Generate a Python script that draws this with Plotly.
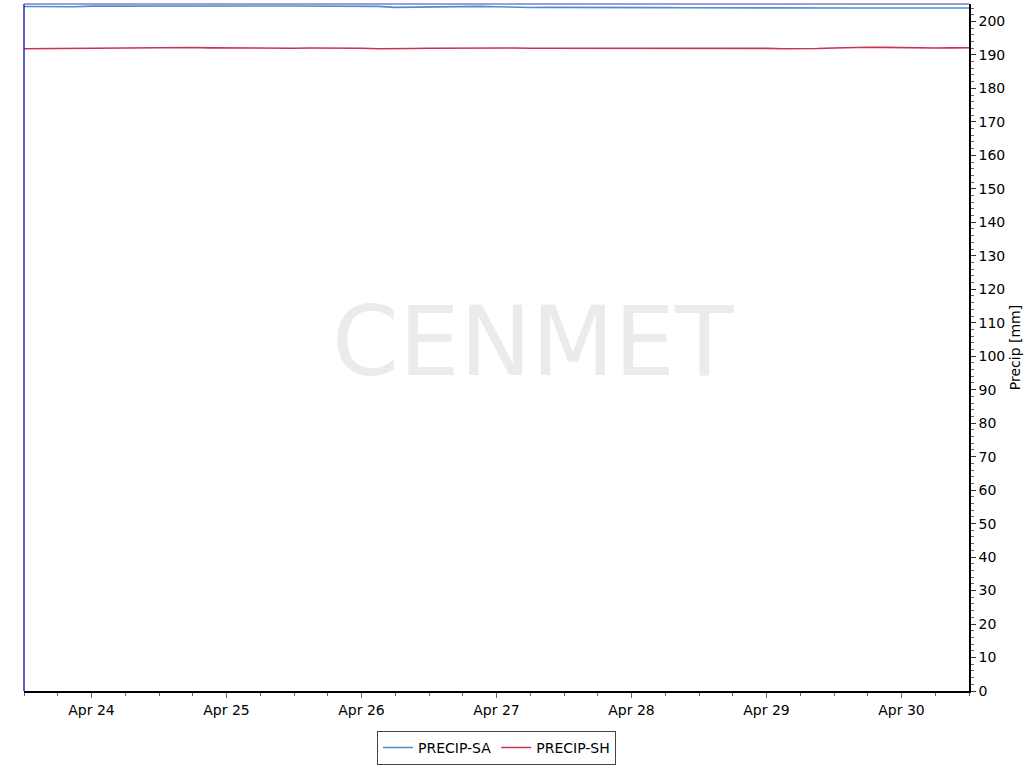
import pandas as pd
import plotly.graph_objects as go

# 3-hourly timestamps, Apr 23 12:00 .. Apr 30 12:00
times = pd.date_range("2024-04-23 12:00", "2024-04-30 12:00", freq="3h")

precip_sa = [204.45, 204.42, 204.40, 204.38,
             204.58, 204.60, 204.62, 204.60, 204.58, 204.60, 204.63, 204.62, 204.60,
             204.58, 204.60, 204.62, 204.60, 204.58, 204.56, 204.58, 204.55, 204.50,
             204.20, 204.25,
             204.45, 204.48, 204.50, 204.48, 204.40,
             204.20, 204.15, 204.18, 204.20, 204.15, 204.12, 204.15, 204.18, 204.15,
             204.12, 204.10, 204.08,
             204.05, 204.00, 204.02, 204.05, 204.00, 203.98, 203.85, 203.90, 204.00,
             204.02, 204.00, 203.98, 204.00, 204.02, 204.05, 204.00]

precip_sh = [191.85, 191.90, 191.95, 192.00, 192.05, 192.10, 192.15, 192.20, 192.25, 192.30,
             192.20, 192.10, 192.05, 192.00, 191.95, 191.95, 192.00, 192.05, 192.10, 192.05, 192.00,
             191.85, 191.80, 191.90,
             192.00, 192.05, 192.10, 192.15, 192.10, 192.05, 192.00, 192.00, 192.05, 192.10,
             192.05, 192.00, 192.00, 192.05, 192.10, 192.15, 192.10,
             192.05, 192.00, 191.95, 191.95, 191.85, 191.80, 191.90, 192.05, 192.20, 192.30,
             192.25, 192.15, 192.10, 192.05, 192.10, 192.15]

series_names = ["PRECIP-SA", "PRECIP-SH"]
series_colors = ["#4a8fcf", "#c8354e"]

x_range = ["2024-04-23 12:00", "2024-04-30 12:00"]
y_range = [0, 205.2]
watermark = "CENMET"
y_title = "Precip [mm]"

FONT = "DejaVu Sans"

fig = go.Figure()
for name, vals, col in zip(series_names, [precip_sa, precip_sh], series_colors):
    fig.add_trace(go.Scatter(x=times, y=vals, mode="lines", name=name,
                             line=dict(color=col, width=1.6)))

fig.update_layout(
    width=1024, height=768,
    margin=dict(l=24, r=55, t=4, b=77, autoexpand=False),
    paper_bgcolor="white", plot_bgcolor="white",
    font=dict(family=FONT, size=14, color="black"),
    showlegend=True,
    legend=dict(orientation="h", x=0.5, xanchor="center", y=-0.058, yanchor="top",
                bordercolor="#444444", borderwidth=1, font=dict(size=14),
                itemwidth=30, tracegroupgap=0),
    xaxis=dict(range=x_range, type="date", showgrid=False, zeroline=False, automargin=False,
               showline=True, linecolor="black", linewidth=1.5,
               tickformat="%b %d", dtick=86400000, tick0="2024-04-24",
               ticks="outside", ticklen=5, tickcolor="#666666",
               minor=dict(dtick=21600000, ticks="outside", ticklen=3, tickcolor="#666666"),
               tickfont=dict(size=14)),
    yaxis=dict(range=y_range, side="right", showgrid=False, zeroline=False, automargin=False,
               showline=True, linecolor="black", linewidth=1.5,
               dtick=10, tick0=0, ticks="outside", ticklen=5, tickcolor="#333333",
               minor=dict(dtick=2, ticks="outside", ticklen=3, tickcolor="#666666"),
               title=dict(text=y_title, font=dict(size=14), standoff=6),
               tickfont=dict(size=14)),
    shapes=[
        dict(type="line", xref="paper", yref="paper", x0=0, x1=0, y0=0, y1=1,
             line=dict(color="#2a2ab0", width=1.5)),
        dict(type="line", xref="paper", yref="paper", x0=0, x1=1, y0=1, y1=1,
             line=dict(color="#7b7fc8", width=1.5)),
    ],
    annotations=[
        dict(text=watermark, xref="paper", yref="paper", x=0.5386, y=0.508,
             showarrow=False, font=dict(family=FONT, size=96, color="#ebebeb"),
             xanchor="center", yanchor="middle"),
    ],
)
fig.write_html("out.html", config={"displayModeBar": False},
               post_script="document.body.style.margin='0';document.body.style.padding='0';")
